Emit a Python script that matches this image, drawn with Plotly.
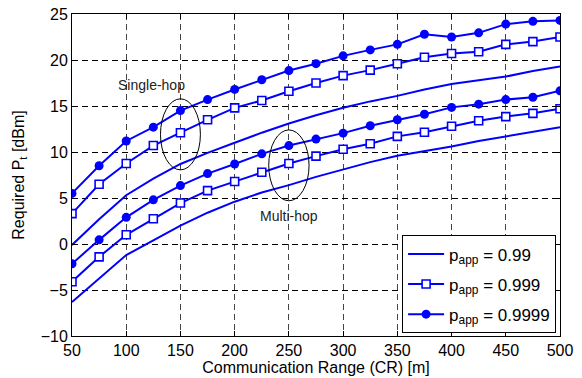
import plotly.graph_objects as go

cr = [50, 75, 100, 125, 150, 175, 200, 225, 250, 275, 300, 325, 350, 375, 400, 425, 450, 475, 500]

# Single-hop
single_099 = [-0.1, 2.7, 5.3, 7.1, 8.7, 9.9, 11.0, 12.1, 13.1, 14.0, 14.8, 15.5, 16.1, 16.8, 17.4, 17.8, 18.2, 18.8, 19.3]
single_0999 = [3.3, 6.5, 8.75, 10.7, 12.1, 13.5, 14.8, 15.6, 16.6, 17.5, 18.3, 18.9, 19.6, 20.3, 20.7, 20.9, 21.7, 22.0, 22.5]
single_09999 = [5.5, 8.5, 11.2, 12.7, 14.5, 15.7, 16.8, 17.85, 18.85, 19.6, 20.45, 21.1, 21.7, 22.8, 22.5, 22.95, 23.9, 24.2, 24.3]

# Multi-hop
multi_099 = [-6.3, -3.7, -1.2, 0.4, 2.0, 3.4, 4.6, 5.6, 6.4, 7.3, 8.1, 8.9, 9.6, 10.1, 10.6, 11.2, 11.7, 12.2, 12.7]
multi_0999 = [-4.1, -1.4, 1.0, 2.75, 4.45, 5.8, 6.8, 7.8, 8.75, 9.55, 10.3, 10.9, 11.7, 12.15, 12.8, 13.4, 13.85, 14.2, 14.7]
multi_09999 = [-2.15, 0.45, 2.9, 4.8, 6.35, 7.65, 8.7, 9.8, 10.7, 11.4, 12.05, 12.85, 13.5, 14.1, 14.85, 15.2, 15.7, 15.95, 16.65]

legend_names = ["p<sub>app</sub> = 0.99", "p<sub>app</sub> = 0.999", "p<sub>app</sub> = 0.9999"]

x_ticks = [50, 100, 150, 200, 250, 300, 350, 400, 450, 500]
y_ticks = [-10, -5, 0, 5, 10, 15, 20, 25]

# annotation ellipses: (center x, center y, half width, half height)
ellipse_single = (150, 11.92, 18.4, 3.86)
ellipse_multi = (250, 8.55, 18.6, 3.85)
label_single = ("Single-hop", 123, 17.3)
label_multi = ("Multi-hop", 250.5, 3.0)

BLUE = "#0000FF"
FONT = "Liberation Sans, Arial, Helvetica, sans-serif"

fig = go.Figure()

def add(y, sym, name, show, group):
    common = dict(x=cr, y=y, name=name, showlegend=show, legendgroup=group,
                  line=dict(color=BLUE, width=2))
    if sym is None:
        fig.add_trace(go.Scatter(mode="lines", **common))
    elif sym == "square":
        fig.add_trace(go.Scatter(mode="lines+markers", **common,
                                 marker=dict(symbol="square", size=8, color="white",
                                             line=dict(color=BLUE, width=1.6))))
    else:
        fig.add_trace(go.Scatter(mode="lines+markers", **common,
                                 marker=dict(symbol="circle", size=9, color=BLUE,
                                             line=dict(color=BLUE, width=0))))

add(single_099, None, legend_names[0], True, "a")
add(single_0999, "square", legend_names[1], True, "b")
add(single_09999, "circle", legend_names[2], True, "c")
add(multi_099, None, legend_names[0], False, "a")
add(multi_0999, "square", legend_names[1], False, "b")
add(multi_09999, "circle", legend_names[2], False, "c")

for (cx, cy, hw, hh) in (ellipse_single, ellipse_multi):
    fig.add_shape(type="circle", xref="x", yref="y", x0=cx - hw, x1=cx + hw, y0=cy - hh, y1=cy + hh,
                  line=dict(color="black", width=1))

for (txt, tx, ty) in (label_single, label_multi):
    fig.add_annotation(x=tx, y=ty, text=txt, showarrow=False, xref="x", yref="y",
                       font=dict(family=FONT, size=14, color="#222"))

axis_common = dict(showline=True, linecolor="black", linewidth=1, mirror="ticks",
                   ticks="inside", ticklen=5, tickcolor="black", zeroline=False,
                   showgrid=True, griddash="6px,4px", gridwidth=1, automargin=False,
                   tickfont=dict(family=FONT, size=16, color="black"))

fig.update_xaxes(range=[50, 500], tickvals=x_ticks, gridcolor="#444",
                 title=dict(text="Communication Range (CR) [m]", standoff=2,
                            font=dict(family=FONT, size=16, color="black")),
                 **axis_common)
fig.update_yaxes(range=[-10, 25], tickvals=y_ticks, gridcolor="black",
                 title=dict(text="Required P<sub>t</sub> [dBm]", standoff=12,
                            font=dict(family=FONT, size=16, color="black")),
                 **axis_common)

fig.update_layout(
    width=582, height=378,
    margin=dict(l=72, r=22, t=14, b=42),
    plot_bgcolor="white", paper_bgcolor="white",
    font=dict(family=FONT, size=16, color="black"),
    legend=dict(x=0.992, y=0.008, xanchor="right", yanchor="bottom",
                bgcolor="white", bordercolor="black", borderwidth=1,
                font=dict(family=FONT, size=17, color="black"),
                tracegroupgap=5, itemwidth=36),
    showlegend=True,
)

fig.write_html("out.html", config={"displayModeBar": False},
               post_script="document.body.style.margin='0';document.body.style.overflow='hidden';")
